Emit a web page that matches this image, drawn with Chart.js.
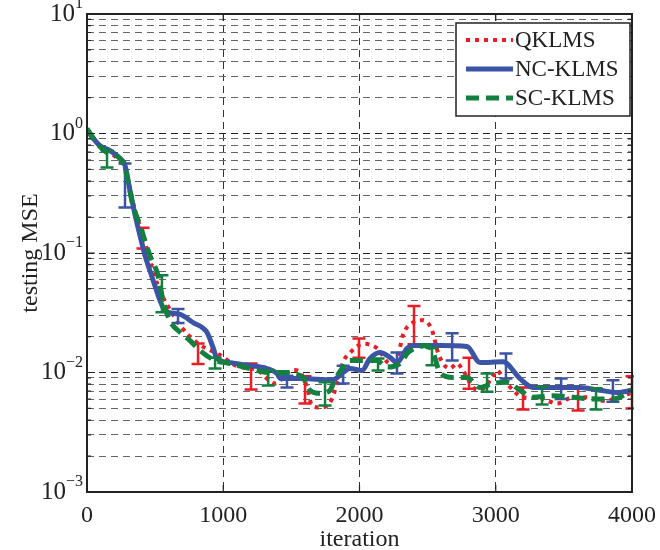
<!DOCTYPE html>
<html lang="en">
<head>
<meta charset="UTF-8">
<title>testing MSE vs iteration</title>
<script src="https://cdn.jsdelivr.net/npm/chart.js"></script>
<style>
  html, body { margin: 0; padding: 0; background: #fff; }
</style>
</head>
<body>
<canvas id="mseChart" width="660" height="550"></canvas>
<script>
// series names (legend order)
const seriesNames = ['QKLMS', 'NC-KLMS', 'SC-KLMS'];

// QKLMS (red dotted)
const qIter = [0, 95, 242, 279, 352, 411, 462, 536, 594, 683, 815, 976, 1101, 1248, 1380, 1512, 1578, 1615, 1651, 1710, 1783, 1842, 1879, 1930, 2026, 2128, 2224, 2283, 2319, 2393, 2466, 2532, 2576, 2613, 2664, 2716, 2760, 2833, 2884, 2972, 3009, 3053, 3127, 3200, 3325, 3450, 3567, 3670, 3787, 3890, 4000];
const qMse = [1.06, 0.79, 0.59, 0.51, 0.227, 0.14, 0.086, 0.048, 0.036, 0.0248, 0.0175, 0.014, 0.0113, 0.0105, 0.0081, 0.0105, 0.0096, 0.0075, 0.0053, 0.0051, 0.0056, 0.0086, 0.0122, 0.0146, 0.0174, 0.0160, 0.0119, 0.0139, 0.0206, 0.0263, 0.0274, 0.0226, 0.0147, 0.0119, 0.0108, 0.0119, 0.0104, 0.0075, 0.0071, 0.0090, 0.0104, 0.0090, 0.0071, 0.0062, 0.0061, 0.0055, 0.0062, 0.0062, 0.0058, 0.0061, 0.0068];
const qBarIter = [411, 815, 1204, 1600, 1996, 2400, 2804, 3200, 3604, 4000];
const qBarLow = [0.109, 0.0118, 0.0072, 0.0055, 0.0133, 0.0172, 0.0073, 0.0049, 0.0048, 0.0050];
const qBarHigh = [0.163, 0.0175, 0.0119, 0.0093, 0.0193, 0.036, 0.0133, 0.0075, 0.0074, 0.0093];

// NC-KLMS (blue solid)
const ncIter = [0, 95, 169, 242, 279, 316, 352, 389, 426, 462, 499, 536, 572, 683, 778, 881, 925, 954, 1050, 1174, 1321, 1394, 1420, 1563, 1806, 1879, 1930, 2018, 2077, 2150, 2224, 2275, 2349, 2393, 2591, 2789, 2884, 3053, 3178, 3273, 3618, 3765, 3890, 4000];
const ncMse = [1.06, 0.79, 0.72, 0.62, 0.54, 0.33, 0.21, 0.14, 0.095, 0.071, 0.053, 0.040, 0.033, 0.0306, 0.0262, 0.0216, 0.0162, 0.0131, 0.0121, 0.0115, 0.0108, 0.0098, 0.0089, 0.0089, 0.0087, 0.0100, 0.0108, 0.0104, 0.0131, 0.0147, 0.0134, 0.0121, 0.0159, 0.0168, 0.0168, 0.0165, 0.0121, 0.0123, 0.0089, 0.0075, 0.0075, 0.0071, 0.0068, 0.0071];
const ncBarIter = [279, 668, 1468, 1880, 2275, 2680, 3075, 3480, 3860];
const ncBarLow = [0.24, 0.026, 0.0075, 0.0081, 0.0098, 0.0126, 0.0089, 0.0060, 0.0057];
const ncBarHigh = [0.56, 0.034, 0.0094, 0.0114, 0.0147, 0.0213, 0.0144, 0.0089, 0.0086];

// SC-KLMS (green dashed)
const scIter = [0, 59, 147, 242, 279, 338, 389, 462, 521, 558, 609, 683, 756, 829, 940, 1050, 1196, 1343, 1453, 1512, 1585, 1637, 1710, 1783, 1820, 1872, 1930, 2026, 2128, 2202, 2297, 2356, 2422, 2495, 2539, 2591, 2686, 2789, 2884, 2980, 3083, 3178, 3273, 3420, 3567, 3714, 3861, 4000];
const scMse = [1.1, 0.87, 0.69, 0.62, 0.51, 0.25, 0.17, 0.095, 0.065, 0.040, 0.027, 0.0217, 0.0185, 0.0153, 0.0126, 0.0119, 0.0108, 0.0100, 0.0100, 0.0098, 0.0091, 0.0071, 0.0067, 0.0071, 0.0087, 0.0108, 0.0126, 0.0126, 0.0126, 0.0111, 0.0119, 0.0147, 0.0162, 0.0168, 0.0147, 0.0100, 0.0091, 0.0091, 0.0075, 0.0081, 0.0083, 0.0071, 0.0062, 0.0064, 0.0062, 0.0060, 0.0060, 0.0071];
const scBarIter = [147, 550, 940, 1330, 1747, 2136, 2532, 2936, 3340, 3736];
const scBarLow = [0.52, 0.032, 0.0108, 0.0078, 0.0053, 0.0104, 0.0115, 0.0069, 0.0054, 0.0049];
const scBarHigh = [0.72, 0.065, 0.0133, 0.0104, 0.0083, 0.0131, 0.016, 0.0098, 0.0076, 0.0074];

// axis ticks
const xTicks = [0, 1000, 2000, 3000, 4000];
const yDecades = [-3, -2, -1, 0, 1];
const yExpLabels = ['\u22123', '\u22122', '\u22121', '0', '1'];

const serif = "'Liberation Serif', 'DejaVu Serif', serif";
const red = '#ec1c24', blue = '#3b54a5', green = '#13803f';

// minor + major log grid values
const yGrid = [];
yDecades.forEach((d, i) => {
    const base = Math.pow(10, d);
    if (i === yDecades.length - 1) { yGrid.push(base); return; }
    for (let k = 1; k <= 9; k++) yGrid.push(+(k * base).toPrecision(3));
});
const isDecade = v => Math.abs(Math.log10(v) - Math.round(Math.log10(v))) < 1e-6;

function toPoints(xs, ys) { return xs.map((x, i) => ({ x: x, y: ys[i] })); }
function toBars(xs, lo, hi) { return xs.map((x, i) => ({ x: x, lo: lo[i], hi: hi[i] })); }

const errorBars = [
    toBars(qBarIter, qBarLow, qBarHigh),
    toBars(ncBarIter, ncBarLow, ncBarHigh),
    toBars(scBarIter, scBarLow, scBarHigh)
];

const decorPlugin = {
    id: 'decor',
    afterDatasetDraw(chart, args) {
        const ctx = chart.ctx, a = chart.chartArea;
        const xs = chart.scales.x, ys = chart.scales.y;
        const ds = chart.data.datasets[args.index];
        ctx.save();
        ctx.beginPath();
        ctx.rect(a.left, a.top - 2, a.right - a.left + 2, a.bottom - a.top + 4);
        ctx.clip();
        ctx.strokeStyle = ds.borderColor;
        ctx.lineWidth = 2.5;
        errorBars[args.index].forEach(b => {
            const px = xs.getPixelForValue(b.x);
            const y1 = ys.getPixelForValue(b.lo), y2 = ys.getPixelForValue(b.hi);
            ctx.beginPath();
            ctx.moveTo(px, y1); ctx.lineTo(px, y2);
            ctx.moveTo(px - 6.5, y1); ctx.lineTo(px + 6.5, y1);
            ctx.moveTo(px - 6.5, y2); ctx.lineTo(px + 6.5, y2);
            ctx.stroke();
        });
        ctx.restore();
    },
    afterDraw(chart) {
        const ctx = chart.ctx, a = chart.chartArea;
        const xs = chart.scales.x, ys = chart.scales.y;
        ctx.save();
        // inward tick marks
        ctx.strokeStyle = '#222';
        ctx.lineWidth = 1.2;
        ctx.beginPath();
        xTicks.forEach(v => {
            const px = xs.getPixelForValue(v);
            ctx.moveTo(px, a.bottom); ctx.lineTo(px, a.bottom - 7);
            ctx.moveTo(px, a.top); ctx.lineTo(px, a.top + 7);
        });
        yGrid.forEach(v => {
            const py = ys.getPixelForValue(v);
            const len = isDecade(v) ? 8 : 4;
            ctx.moveTo(a.left, py); ctx.lineTo(a.left + len, py);
            ctx.moveTo(a.right, py); ctx.lineTo(a.right - len, py);
        });
        ctx.stroke();
        // frame
        ctx.lineWidth = 2;
        ctx.strokeRect(a.left, a.top, a.right - a.left, a.bottom - a.top);

        // y tick labels 10^k
        ctx.fillStyle = '#222';
        ctx.textBaseline = 'middle';
        yDecades.forEach((d, i) => {
            const py = ys.getPixelForValue(Math.pow(10, d));
            ctx.font = '16px ' + serif;
            const ew = ctx.measureText(yExpLabels[i]).width;
            ctx.textAlign = 'left';
            ctx.fillText(yExpLabels[i], a.left - 4 - ew, py - 10);
            ctx.font = '25px ' + serif;
            ctx.textAlign = 'right';
            ctx.fillText('10', a.left - 4 - ew, py);
        });

        // legend
        const lx = 456, ly = 23, lw = 174, lh = 93;
        ctx.fillStyle = '#fff';
        ctx.fillRect(lx, ly, lw, lh);
        ctx.strokeStyle = '#222';
        ctx.lineWidth = 1.5;
        ctx.strokeRect(lx, ly, lw, lh);
        const rows = [40, 69, 98];
        chart.data.datasets.forEach((ds, i) => {
            ctx.beginPath();
            ctx.strokeStyle = ds.borderColor;
            ctx.lineWidth = ds.borderWidth;
            ctx.setLineDash(ds.borderDash || []);
            ctx.moveTo(466, rows[i]); ctx.lineTo(513, rows[i]);
            ctx.stroke();
            ctx.setLineDash([]);
            ctx.fillStyle = '#222';
            ctx.font = '23px ' + serif;
            ctx.textAlign = 'left';
            ctx.textBaseline = 'middle';
            ctx.fillText(ds.label, 515, rows[i] + 1);
        });
        ctx.restore();
    }
};

const lineStyle = {
    pointRadius: 0,
    fill: false,
    cubicInterpolationMode: 'monotone'
};

new Chart(document.getElementById('mseChart').getContext('2d'), {
    type: 'line',
    data: {
        datasets: [
            Object.assign({ label: seriesNames[0], data: toPoints(qIter, qMse), borderColor: red, borderWidth: 4, borderDash: [4, 5], order: 3 }, lineStyle),
            Object.assign({ label: seriesNames[1], data: toPoints(ncIter, ncMse), borderColor: blue, borderWidth: 5, order: 2 }, lineStyle),
            Object.assign({ label: seriesNames[2], data: toPoints(scIter, scMse), borderColor: green, borderWidth: 5, borderDash: [13, 7], order: 1 }, lineStyle)
        ]
    },
    options: {
        responsive: false,
        animation: false,
        devicePixelRatio: 1,
        layout: { padding: { left: 0, top: 14, right: 28, bottom: 0 } },
        plugins: { legend: { display: false }, tooltip: { enabled: false } },
        scales: {
            x: {
                type: 'linear',
                min: 0,
                max: 4000,
                afterBuildTicks: s => { s.ticks = xTicks.map(v => ({ value: v })); },
                afterFit: s => { s.height = 58; s.paddingLeft = 0; s.paddingRight = 0; },
                grid: { color: '#333', lineWidth: 1, drawTicks: false },
                border: { display: false, dash: [7, 5] },
                ticks: { color: '#222', padding: 9, font: { family: serif, size: 24 }, callback: v => String(v) },
                title: { display: true, text: 'iteration', color: '#222', padding: { top: 0, bottom: -2 }, font: { family: serif, size: 24, lineHeight: 1 } }
            },
            y: {
                type: 'logarithmic',
                min: 0.001,
                max: 10,
                afterBuildTicks: s => { s.ticks = yGrid.map(v => ({ value: v })); },
                afterFit: s => { s.width = 87; s.paddingTop = 0; s.paddingBottom = 0; },
                grid: {
                    drawTicks: false,
                    lineWidth: 1,
                    color: c => (c.tick && isDecade(c.tick.value)) ? '#222' : '#666'
                },
                border: { display: false, dash: [7, 5] },
                ticks: { display: false, autoSkip: false },
                title: { display: true, text: 'testing MSE', color: '#222', padding: { top: 16 }, font: { family: serif, size: 24, lineHeight: 1.2 } }
            }
        }
    },
    plugins: [decorPlugin]
});
</script>
</body>
</html>
